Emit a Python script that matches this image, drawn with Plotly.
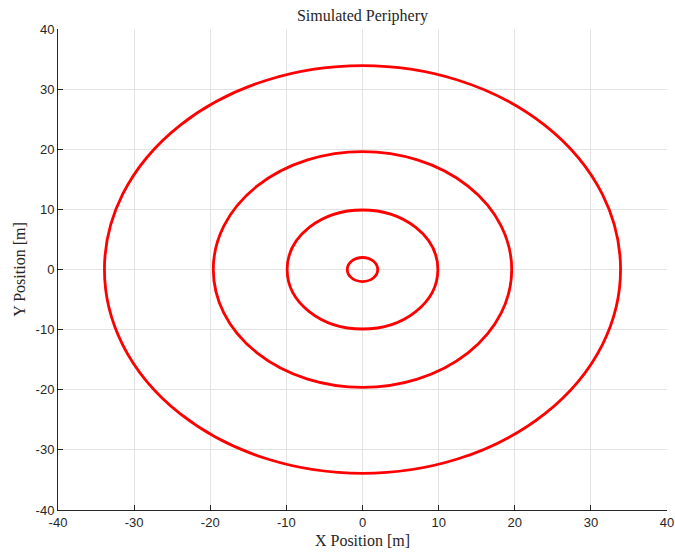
import plotly.graph_objects as go

# Periphery rings (radii in metres), all centred at the origin
ring_radii = [2.0, 9.9, 19.6, 33.9]
centre_x = 0.0
centre_y = 0.0

x_ticks = [-40, -30, -20, -10, 0, 10, 20, 30, 40]
y_ticks = [-40, -30, -20, -10, 0, 10, 20, 30, 40]
x_tick_labels = ["-40", "-30", "-20", "-10", "0", "10", "20", "30", "40"]
y_tick_labels = ["-40", "-30", "-20", "-10", "0", "10", "20", "30", "40"]

fig = go.Figure()

# invisible trace so the axes exist
fig.add_trace(go.Scatter(x=[centre_x], y=[centre_y], mode="markers",
                         marker=dict(opacity=0), showlegend=False, hoverinfo="skip"))

for r in ring_radii:
    fig.add_shape(type="circle", xref="x", yref="y",
                  x0=centre_x - r, x1=centre_x + r,
                  y0=centre_y - r, y1=centre_y + r,
                  line=dict(color="#ff0000", width=2.8))

axis_common = dict(
    showgrid=True, gridcolor="#e3e3e3", gridwidth=1,
    zeroline=False,
    showline=True, linecolor="#262626", linewidth=1,
    ticks="inside", ticklen=5, tickcolor="#262626",
    tickfont=dict(family="Liberation Sans, Arial, sans-serif", size=13, color="#262626"),
    mirror=False, automargin=False,
)

fig.update_xaxes(range=[-40, 40], tickvals=x_ticks, ticktext=x_tick_labels,
                 title=dict(text="X Position [m]", standoff=6,
                            font=dict(family="Liberation Serif, serif", size=16, color="#262626")),
                 **axis_common)
fig.update_yaxes(range=[-40, 40], tickvals=y_ticks, ticktext=y_tick_labels,
                 title=dict(text="Y Position [m]", standoff=6,
                            font=dict(family="Liberation Serif, serif", size=16, color="#262626")),
                 **axis_common)

fig.update_layout(
    width=675, height=555,
    margin=dict(l=58, r=8, t=29, b=45),
    paper_bgcolor="white", plot_bgcolor="white",
    title=dict(text="Simulated Periphery", x=0.537, xanchor="center",
               y=0.973, yanchor="middle",
               font=dict(family="Liberation Serif, serif", size=16, color="#262626")),
    showlegend=False,
)

fig.write_html("out.html")
